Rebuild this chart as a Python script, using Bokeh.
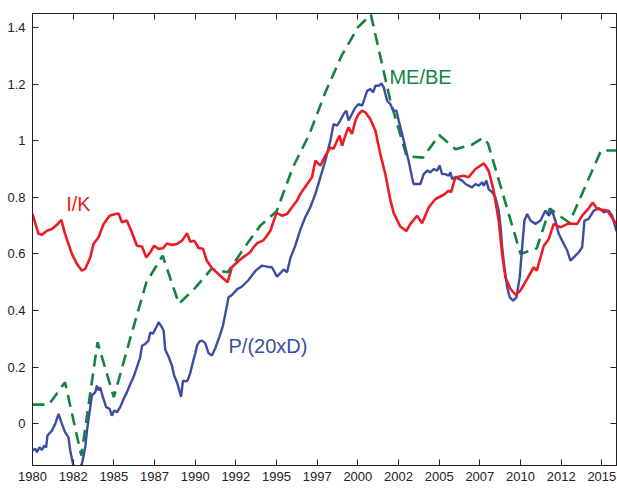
from bokeh.plotting import figure
from bokeh.models import Range1d, LinearAxis, FixedTicker, CustomJSTickFormatter, ColumnDataSource
from bokeh.core.properties import value
from bokeh.embed import file_html
from bokeh.resources import INLINE

# ---------------- data ----------------
ik_year = [1980.00, 1980.37, 1980.58, 1980.89, 1981.19, 1981.50, 1981.77, 1982.00, 1982.42, 1982.73,
           1983.04, 1983.24, 1983.55, 1983.75, 1984.06, 1984.37, 1984.74, 1985.09, 1985.29, 1985.50,
           1985.80, 1986.11, 1986.42, 1986.73, 1986.99, 1987.24, 1987.48, 1987.75, 1988.02, 1988.26,
           1988.57, 1988.88, 1989.19, 1989.50, 1989.70, 1989.94, 1990.21, 1990.48, 1990.72, 1991.03,
           1991.54, 1991.99, 1992.26, 1992.67, 1993.08, 1993.39, 1993.59, 1993.80, 1994.21, 1994.42,
           1994.62, 1995.00, 1995.34, 1995.65, 1995.95, 1996.26, 1996.46, 1997.18, 1997.39, 1997.70,
           1998.00, 1998.31, 1998.51, 1998.72, 1998.88, 1999.03, 1999.23, 1999.43, 1999.64, 1999.85,
           2000.05, 2000.26, 2000.46, 2000.77, 2001.08, 2001.38, 2001.69, 2002.00, 2002.20, 2002.61,
           2002.98, 2003.23, 2003.64, 2003.95, 2004.36, 2004.77, 2005.28, 2005.58, 2005.73, 2006.00,
           2006.51, 2006.81, 2007.23, 2007.74, 2008.04, 2008.35, 2008.66, 2008.87, 2009.07, 2009.38,
           2009.69, 2010.00, 2010.41, 2010.81, 2011.00, 2011.43, 2011.74, 2012.04, 2012.45, 2012.96,
           2013.48, 2013.79, 2014.20, 2014.44, 2014.71, 2015.33, 2015.74, 2015.90]
ik_val = [0.741, 0.671, 0.668, 0.682, 0.688, 0.703, 0.720, 0.671, 0.600, 0.565,
          0.541, 0.547, 0.588, 0.635, 0.659, 0.706, 0.735, 0.741, 0.743, 0.712,
          0.718, 0.676, 0.629, 0.626, 0.588, 0.606, 0.629, 0.618, 0.620, 0.637,
          0.632, 0.635, 0.647, 0.673, 0.643, 0.647, 0.621, 0.618, 0.576, 0.550,
          0.523, 0.500, 0.553, 0.576, 0.594, 0.606, 0.624, 0.637, 0.649, 0.665,
          0.682, 0.745, 0.735, 0.741, 0.765, 0.788, 0.812, 0.871, 0.929, 0.912,
          0.947, 0.976, 0.971, 1.000, 1.018, 0.982, 1.018, 1.047, 1.024, 1.071,
          1.094, 1.106, 1.100, 1.076, 1.035, 0.953, 0.882, 0.790, 0.745, 0.697,
          0.681, 0.706, 0.735, 0.708, 0.765, 0.794, 0.809, 0.823, 0.818, 0.871,
          0.876, 0.871, 0.900, 0.920, 0.894, 0.823, 0.718, 0.600, 0.518, 0.477,
          0.456, 0.471, 0.512, 0.553, 0.541, 0.629, 0.653, 0.706, 0.694, 0.708,
          0.706, 0.735, 0.762, 0.782, 0.759, 0.753, 0.718, 0.706]

mebe_year = [1980.0, 1981.0, 1982.0, 1983.0, 1984.0, 1985.0, 1986.0, 1987.0, 1988.0, 1989.0,
             1990.0, 1991.0, 1992.0, 1993.0, 1994.0, 1995.0, 1996.0, 1997.0, 1998.0, 1999.0,
             2000.0, 2000.8, 2002.0, 2003.0, 2004.0, 2005.0, 2006.0, 2007.0, 2007.7, 2008.0,
             2010.0, 2011.0, 2011.8, 2013.0, 2014.95, 2015.9]
mebe_val = [0.068, 0.068, 0.147, -0.112, 0.288, 0.094, 0.300, 0.500, 0.594, 0.424,
            0.480, 0.547, 0.535, 0.620, 0.700, 0.750, 0.905, 1.020, 1.170, 1.300,
            1.400, 1.445, 1.140, 0.945, 0.940, 1.020, 0.970, 0.985, 1.010, 0.990,
            0.600, 0.620, 0.760, 0.710, 0.965, 0.965]

pd_year = [1980.00, 1980.17, 1980.27, 1980.43, 1980.58, 1980.72, 1980.84, 1980.92, 1981.19, 1981.40,
           1981.60, 1981.81, 1982.01, 1982.21, 1982.32, 1982.52, 1982.70, 1982.83, 1983.04, 1983.24,
           1983.35, 1983.55, 1983.65, 1983.86, 1983.96, 1984.06, 1984.16, 1984.33, 1984.53, 1984.74,
           1984.88, 1985.02, 1985.19, 1985.39, 1985.60, 1985.81, 1986.01, 1986.21, 1986.42, 1986.62,
           1986.73, 1986.93, 1987.13, 1987.24, 1987.40, 1987.61, 1987.75, 1987.96, 1988.06, 1988.16,
           1988.36, 1988.57, 1988.71, 1988.88, 1989.04, 1989.13, 1989.25, 1989.39, 1989.53, 1989.70,
           1989.86, 1990.01, 1990.11, 1990.27, 1990.42, 1990.62, 1990.82, 1991.03, 1991.24, 1991.50,
           1991.71, 1991.96, 1992.05, 1992.26, 1992.57, 1992.88, 1993.28, 1993.70, 1994.11, 1994.42,
           1994.72, 1995.03, 1995.23, 1995.44, 1995.65, 1995.85, 1996.16, 1996.46, 1996.77, 1997.08,
           1997.39, 1997.70, 1998.00, 1998.31, 1998.51, 1998.72, 1998.92, 1999.13, 1999.29, 1999.43,
           1999.64, 1999.85, 2000.05, 2000.26, 2000.40, 2000.57, 2000.77, 2000.94, 2001.08, 2001.28,
           2001.45, 2001.59, 2001.80, 2002.00, 2002.17, 2002.37, 2002.51, 2002.72, 2002.92, 2003.12,
           2003.33, 2003.43, 2003.84, 2004.05, 2004.26, 2004.46, 2004.66, 2004.87, 2005.03, 2005.18,
           2005.38, 2005.58, 2005.69, 2005.79, 2006.00, 2006.20, 2006.41, 2006.62, 2006.81, 2007.02,
           2007.23, 2007.43, 2007.64, 2007.74, 2007.90, 2008.04, 2008.25, 2008.46, 2008.66, 2008.78,
           2008.87, 2009.01, 2009.18, 2009.34, 2009.54, 2009.75, 2009.95, 2010.10, 2010.24, 2010.41,
           2010.61, 2010.92, 2011.23, 2011.53, 2011.73, 2011.94, 2012.14, 2012.35, 2012.66, 2012.87,
           2013.07, 2013.27, 2013.58, 2013.79, 2013.93, 2014.19, 2014.50, 2014.81, 2015.12, 2015.42,
           2015.63, 2015.90]
pd_val = [-0.094, -0.088, -0.100, -0.083, -0.092, -0.077, -0.083, -0.041, -0.024, 0.000,
          0.035, 0.000, -0.030, -0.047, -0.094, -0.150, -0.170, -0.160, -0.141, -0.083,
          -0.024, 0.059, 0.100, 0.112, 0.135, 0.118, 0.129, 0.094, 0.059, 0.053,
          0.029, 0.047, 0.041, 0.059, 0.088, 0.112, 0.141, 0.165, 0.200, 0.235,
          0.276, 0.282, 0.294, 0.323, 0.318, 0.341, 0.359, 0.341, 0.329, 0.262,
          0.238, 0.206, 0.170, 0.147, 0.115, 0.095, 0.153, 0.150, 0.153, 0.180,
          0.218, 0.250, 0.276, 0.291, 0.294, 0.285, 0.250, 0.241, 0.268, 0.309,
          0.347, 0.420, 0.447, 0.455, 0.475, 0.485, 0.508, 0.540, 0.559, 0.555,
          0.553, 0.520, 0.532, 0.545, 0.535, 0.585, 0.630, 0.685, 0.730, 0.765,
          0.812, 0.871, 0.929, 1.000, 1.059, 1.053, 1.071, 1.094, 1.106, 1.071,
          1.094, 1.118, 1.129, 1.124, 1.147, 1.176, 1.182, 1.171, 1.194, 1.194,
          1.202, 1.188, 1.141, 1.129, 1.106, 1.106, 1.071, 1.024, 0.976, 0.929,
          0.871, 0.847, 0.847, 0.882, 0.894, 0.888, 0.900, 0.894, 0.912, 0.882,
          0.882, 0.876, 0.888, 0.865, 0.871, 0.865, 0.859, 0.847, 0.841, 0.835,
          0.847, 0.841, 0.853, 0.841, 0.859, 0.829, 0.818, 0.800, 0.753, 0.694,
          0.624, 0.553, 0.482, 0.447, 0.435, 0.447, 0.518, 0.624, 0.718, 0.741,
          0.718, 0.706, 0.718, 0.753, 0.735, 0.753, 0.718, 0.671, 0.635, 0.612,
          0.576, 0.588, 0.606, 0.624, 0.718, 0.724, 0.753, 0.762, 0.747, 0.753,
          0.735, 0.680]

x_ticks = [1980, 1982.5, 1985, 1987.5, 1990, 1992.5, 1995, 1997.5, 2000, 2002.5,
           2005, 2007.5, 2010, 2012.5, 2015]
y_ticks = [0, 0.2, 0.4, 0.6, 0.8, 1.0, 1.2, 1.4]

series_names = ["I/K", "ME/BE", "P/(20xD)"]

# ---------------- styling ----------------
RED = "#EC1C24"
GREEN = "#13843F"
BLUE = "#3A4DA2"
FONT = "Liberation Sans"
AX = "#222222"

p = figure(width=617, height=489, output_backend="svg", toolbar_location=None,
           x_range=Range1d(1980, 2015.9), y_range=Range1d(-0.147, 1.449),
           x_axis_location=None, y_axis_location=None,
           min_border_left=32, min_border_right=1, min_border_top=13, min_border_bottom=24)
p.grid.visible = False
p.outline_line_color = AX
p.outline_line_width = 1
p.background_fill_color = "white"
p.border_fill_color = "white"

xfmt = CustomJSTickFormatter(code="return Math.floor(tick + 1e-6).toFixed(0);")
yfmt = CustomJSTickFormatter(code="return String(parseFloat(tick.toFixed(1)));")
blank = CustomJSTickFormatter(code="return '';")


def style(ax, labels=True):
    ax.major_tick_in = 6
    ax.major_tick_out = 0
    ax.minor_tick_line_color = None
    ax.axis_line_color = AX
    ax.major_tick_line_color = AX
    ax.major_label_text_font = FONT
    ax.major_label_text_color = AX
    if labels:
        ax.major_label_text_font_size = "13px"
    else:
        ax.major_label_text_font_size = "0px"
        ax.major_label_standoff = 0


bottom = LinearAxis(ticker=FixedTicker(ticks=x_ticks), formatter=xfmt)
style(bottom)
bottom.major_label_standoff = 6
top = LinearAxis(ticker=FixedTicker(ticks=x_ticks), formatter=blank)
style(top, labels=False)
left = LinearAxis(ticker=FixedTicker(ticks=y_ticks), formatter=yfmt)
style(left)
left.major_label_standoff = 7
right = LinearAxis(ticker=FixedTicker(ticks=y_ticks), formatter=blank)
style(right, labels=False)

p.add_layout(bottom, "below")
p.add_layout(left, "left")
p.add_layout(top, "above")
p.add_layout(right, "right")

p.line(mebe_year, mebe_val, line_color=GREEN, line_width=2.6, line_dash="12 7")
p.line(pd_year, pd_val, line_color=BLUE, line_width=2.4)
p.line(ik_year, ik_val, line_color=RED, line_width=2.6)

labels = ColumnDataSource(dict(
    x=[1982.07, 2001.94, 1992.05],
    y=[0.778, 1.226, 0.276],
    text=series_names,
    color=[RED, GREEN, BLUE],
))
p.text(x="x", y="y", text="text", text_color="color", source=labels,
       text_font=value(FONT), text_font_size="20px",
       text_align="left", text_baseline="alphabetic")

open("out.html", "w").write(file_html(p, INLINE))
